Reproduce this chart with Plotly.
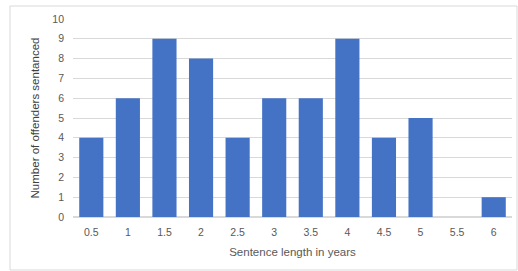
import plotly.graph_objects as go

categories = ["0.5", "1", "1.5", "2", "2.5", "3", "3.5", "4", "4.5", "5", "5.5", "6"]
offenders = [4, 6, 9, 8, 4, 6, 6, 9, 4, 5, 0, 1]
y_ticks = list(range(0, 11))

W, H = 518, 271
ml, mr, mt, mb = 73, 6, 19, 54
pw, ph = W - ml - mr, H - mt - mb

def px(x):
    return (x - ml) / pw

def py(y):
    return (H - mb - y) / ph

fig = go.Figure(go.Bar(
    x=categories, y=offenders,
    marker=dict(color="#4472C4", line=dict(width=0)),
))

font = dict(family="Liberation Sans, Arial, sans-serif", size=10.5, color="#595959")
fig.update_layout(
    width=W, height=H,
    margin=dict(l=ml, r=mr, t=mt, b=mb, autoexpand=False),
    paper_bgcolor="white", plot_bgcolor="white",
    bargap=0.34,
    font=font,
    showlegend=False,
    xaxis=dict(
        type="category", showgrid=False, ticks="", automargin=False,
        title=dict(text="Sentence length in years", font=dict(size=11.5, color="#595959"), standoff=11),
        tickfont=dict(size=10.5), ticklabelstandoff=7,
    ),
    yaxis=dict(
        range=[0, 10], tickvals=y_ticks, showgrid=True, gridcolor="#d9d9d9", gridwidth=1,
        zeroline=True, zerolinecolor="#d9d9d9", ticks="", automargin=False,
        title=dict(text="Number of offenders sentanced", font=dict(size=11.5, color="#404040"), standoff=10),
        tickfont=dict(size=10.5), ticklabelstandoff=8,
    ),
    shapes=[dict(
        type="rect", xref="paper", yref="paper",
        x0=px(10), x1=px(517), y0=py(270), y1=py(6),
        line=dict(color="#d9d9d9", width=1), fillcolor="rgba(0,0,0,0)", layer="below",
    )],
)

fig.write_html(
    "out.html",
    config={"displayModeBar": False},
    post_script="document.body.style.margin='0';document.body.style.overflow='hidden';",
)
